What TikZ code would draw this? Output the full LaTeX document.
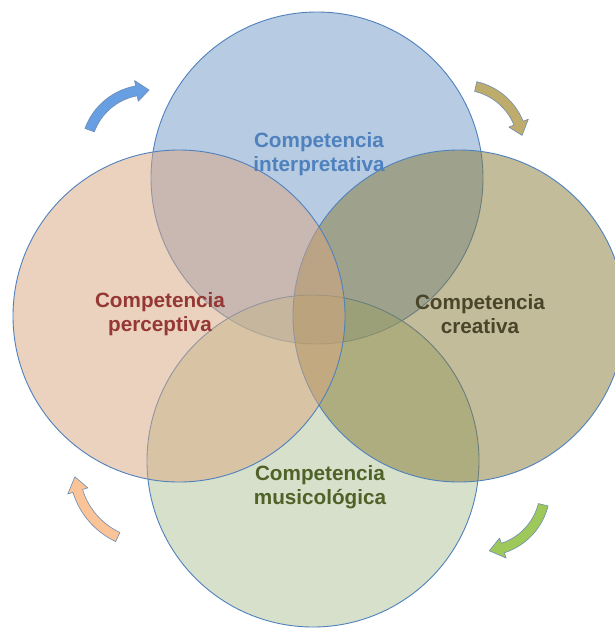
\documentclass[tikz,border=0pt]{standalone}
\usepackage{fontspec}
\setmainfont{Liberation Sans}

% circle fills (drawn half transparent)
\definecolor{ringline}{RGB}{79,129,189}
\definecolor{fillinterp}{RGB}{113,153,201}
\definecolor{fillperc}{RGB}{217,167,129}
\definecolor{fillcreat}{RGB}{135,123,55}
\definecolor{fillmusic}{RGB}{177,195,153}
% label colours
\definecolor{txtinterp}{RGB}{79,129,189}
\definecolor{txtperc}{RGB}{149,55,52}
\definecolor{txtcreat}{RGB}{74,69,42}
\definecolor{txtmusic}{RGB}{79,98,40}
% cycle arrows
\definecolor{arrowline}{RGB}{110,140,180}
\definecolor{arrblue}{RGB}{104,158,226}
\definecolor{arrkhaki}{RGB}{190,172,108}
\definecolor{arrgreen}{RGB}{158,200,90}
\definecolor{arrpeach}{RGB}{250,196,152}

% curved block arrow: fill colour, centre, radius, tail angle, head-base angle, tip angle
\newcommand{\cyclearc}[6]{%
  \path[cyclearrow,fill=#1]
    ([shift={#2}]#4:#3+5) arc[start angle=#4, end angle=#5, radius=#3+5]
    -- ([shift={#2}]#5:#3+10.5) -- ([shift={#2}]#6:#3)
    -- ([shift={#2}]#5:#3-10.5) -- ([shift={#2}]#5:#3-5)
    arc[start angle=#5, end angle=#4, radius=#3-5] -- cycle;}

\begin{document}
\begin{tikzpicture}[x=1pt,y=-1pt,
  venn/.style={draw=ringline, line width=0.9pt, fill opacity=0.5},
  vennlabel/.style={font=\fontsize{20.7}{24}\selectfont\bfseries, align=center, inner sep=0pt},
  cyclearrow/.style={draw=arrowline, line width=0.6pt, line join=round}]

\fill[white] (0,0) rectangle (615,629);
\useasboundingbox (0,0) rectangle (615,629);

% the four overlapping circles
\draw[venn, fill=fillinterp] (317,178) circle[radius=166];
\draw[venn, fill=fillmusic]  (313,461) circle[radius=166];
\draw[venn, fill=fillcreat]  (459,316) circle[radius=166];
\draw[venn, fill=fillperc]   (179,316) circle[radius=166];

% labels
\node[vennlabel, text=txtinterp] (interp) at (319,154) {Competencia\\interpretativa};
\node[vennlabel, text=txtperc]   (perc)   at (160,314) {Competencia\\perceptiva};
\node[vennlabel, text=txtcreat]  (creat)  at (480,314) {Competencia\\creativa};
\node[vennlabel, text=txtmusic]  (music)  at (320,487) {Competencia\\musicológica};

% clockwise cycle arrows
\cyclearc{arrblue}{(147,151)}{61}{200}{260}{272}
\cyclearc{arrkhaki}{(462,146)}{61}{283}{338}{350}
\cyclearc{arrgreen}{(484,490)}{61}{14}{72}{85}
\cyclearc{arrpeach}{(149.5,469)}{75}{115}{163}{174}
\end{tikzpicture}
\end{document}
